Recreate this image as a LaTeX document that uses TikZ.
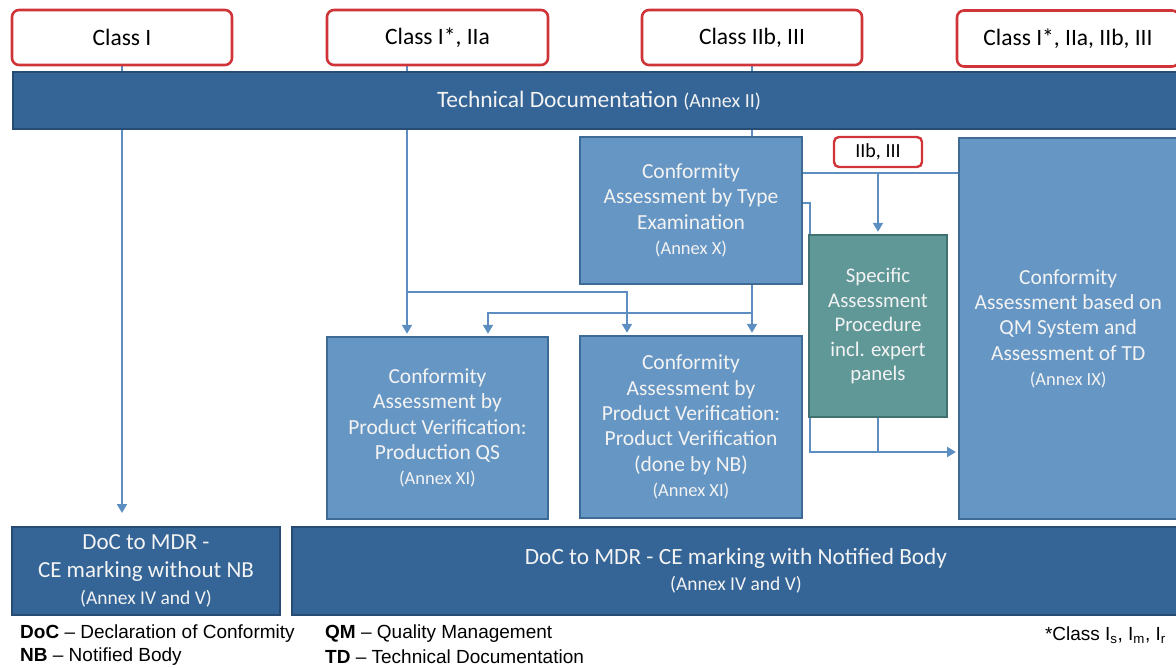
\documentclass[tikz,border=0pt]{standalone}
\usepackage{fontspec}
\setmainfont{Carlito}
\newfontfamily\legendfont{Liberation Sans}
\usetikzlibrary{arrows.meta,calc,backgrounds}
\definecolor{tdblue}{RGB}{52,101,150}
\definecolor{tdborder}{RGB}{38,76,116}
\definecolor{boxblue}{RGB}{102,150,196}
\definecolor{boxborder}{RGB}{62,106,150}
\definecolor{greenbox}{RGB}{96,152,152}
\definecolor{greenborder}{RGB}{64,112,112}
\definecolor{lineblue}{RGB}{92,142,194}
\definecolor{classred}{RGB}{208,52,56}
\definecolor{boxtext}{RGB}{243,243,243}
\begin{document}
\begin{tikzpicture}[x=1pt,y=-1pt,
  classbox/.style={draw=classred, line width=2.6pt, rounded corners=7pt, fill=white,
    inner sep=0pt, font=\fontsize{23.5}{28}\selectfont, text=black},
  darkbox/.style={draw=tdborder, line width=2pt, fill=tdblue, inner sep=0pt,
    text=boxtext, align=center},
  bluebox/.style={draw=boxborder, line width=2.4pt, fill=boxblue, inner sep=0pt,
    text=boxtext, align=center, font=\fontsize{21.5}{25.3}\selectfont},
  greenstyle/.style={draw=greenborder, line width=2.4pt, fill=greenbox, inner sep=0pt,
    text=boxtext, align=center, font=\fontsize{20.8}{24.5}\selectfont},
  annex/.style={font=\fontsize{18.5}{25}\selectfont},
  ln/.style={draw=lineblue, line width=2pt},
  arr/.style={ln, -{Triangle[width=10pt,length=9pt]}, shorten >=2pt},
  legend/.style={inner sep=0pt, font=\legendfont\fontsize{19}{23}\selectfont, text=black}
]
\useasboundingbox (0,0) rectangle (1176,668);
\clip (0,0) rectangle (1176,668);

% class boxes
\node[classbox, minimum width=220pt, minimum height=55pt] (c1) at (122,37.5) {Class I};
\node[classbox, minimum width=221pt, minimum height=55pt] (c2) at (437.5,37.5) {Class I*, IIa};
\node[classbox, minimum width=220pt, minimum height=55pt] (c3) at (752,37.5) {Class IIb, III};
\node[classbox, minimum width=222pt, minimum height=56pt] (c4) at (1068,38.5) {Class I*, IIa, IIb, III};

% technical documentation bar
\node[darkbox, minimum width=1172pt, minimum height=57pt, anchor=west] (td) at (12,100.5)
  {\fontsize{23.5}{28}\selectfont Technical Documentation {\fontsize{20}{28}\selectfont (Annex II)}};

% type examination
\node[bluebox, minimum width=222pt, minimum height=147pt] (te) at (691,210.5)
  {Conformity\\Assessment by Type\\Examination\\{\fontsize{18.5}{25}\selectfont (Annex X)}};

% IIb, III label
\node[classbox, rounded corners=5pt, line width=2.4pt, minimum width=88pt, minimum height=30pt,
  font=\fontsize{20}{24}\selectfont] (c5) at (878,152) {IIb, III};

% specific assessment procedure
\node[greenstyle, minimum width=138pt, minimum height=182pt] (sa) at (878,326)
  {Specific\\Assessment\\Procedure\\incl. expert\\panels};

% QM system
\node[bluebox, minimum width=222pt, minimum height=381pt, anchor=north west] (qm) at (958,137)
  {\hspace*{-4pt}Conformity\\\hspace*{-4pt}Assessment based on\\\hspace*{-4pt}QM System and\\\hspace*{-4pt}Assessment of TD\\\hspace*{-4pt}{\fontsize{18.5}{25}\selectfont (Annex IX)}};

% product verification boxes
\node[bluebox, minimum width=221pt, minimum height=182pt] (pqs) at (437.5,428)
  {Conformity\\Assessment by\\Product Verification:\\Production QS\\{\fontsize{18.5}{25}\selectfont (Annex XI)}};
\node[bluebox, minimum width=222pt, minimum height=182pt] (pvn) at (691,427)
  {Conformity\\Assessment by\\Product Verification:\\Product Verification\\(done by NB)\\{\fontsize{18.5}{25}\selectfont (Annex XI)}};

% DoC boxes
\node[darkbox, minimum width=268pt, minimum height=88pt, font=\fontsize{23}{27.5}\selectfont] (doc1) at (146,571)
  {DoC to MDR -\\CE marking without NB\\{\fontsize{19.5}{27.5}\selectfont (Annex IV and V)}};
\node[darkbox, minimum width=888pt, minimum height=88pt, anchor=west, font=\fontsize{23.3}{26.5}\selectfont] (doc2) at (291,571)
  {DoC to MDR - CE marking with Notified Body\\{\fontsize{19.5}{26.5}\selectfont (Annex IV and V)}};

% legend
\node[legend, anchor=west] (l1) at (20,634) {\textbf{DoC} \textendash{} Declaration of Conformity};
\node[legend, anchor=west] (l2) at (20,657) {\textbf{NB} \textendash{} Notified Body};
\node[legend, anchor=west] (l3) at (325,634) {\textbf{QM} \textendash{} Quality Management};
\node[legend, anchor=west] (l4) at (325,657) {\textbf{TD} \textendash{} Technical Documentation};
\node[legend, anchor=east] (l5) at (1166,635) {*Class I\textsubscript{s}, I\textsubscript{m}, I\textsubscript{r}};

% connectors
\begin{scope}[on background layer]
  \draw[arr, shorten >=13pt] (c1.south) -- (c1.south |- doc1.north);
  \draw[arr] (407,0 |- c2.south) -- (407,0 |- pqs.north);
  \coordinate (j1) at (407,292);
  \draw[arr] (j1) -| (627,0 |- pvn.north);
  \draw[ln] (c3.south) -- (c3.south |- te.north);
  \draw[arr] (752,0 |- te.south) -- (752,0 |- pvn.north);
  \coordinate (j2) at (752,313);
  \draw[arr] (j2) -| (488,0 |- pqs.north);
  \draw[ln] (te.east |- 0,173) -- (qm.west |- 0,173);
  \draw[arr] (sa.north |- 0,173) -- (sa.north);
  \draw[arr] (te.east |- 0,203) -- (810,203) -- (810,452) -- (qm.west |- 0,452);
  \draw[ln] (sa.south) -- (sa.south |- 0,452);
\end{scope}
\end{tikzpicture}
\end{document}
